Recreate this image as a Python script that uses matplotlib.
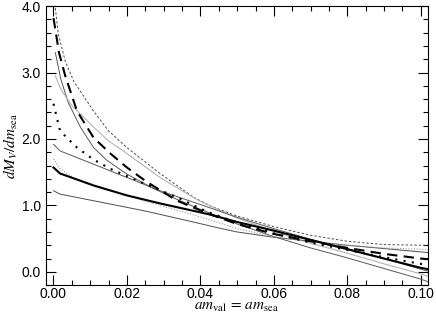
import numpy as np
import matplotlib
matplotlib.use("Agg")
import matplotlib.pyplot as plt
from matplotlib.ticker import MultipleLocator, FormatStrFormatter

plt.rcParams['font.family'] = ['Liberation Sans', 'DejaVu Sans']
plt.rcParams['mathtext.fontset'] = 'stix'

# curves: (x, y) pairs
top_dash_x = [0.0005, 0.0013, 0.0032, 0.0055, 0.0109, 0.015, 0.02, 0.029, 0.0382, 0.0428, 0.05, 0.06, 0.07, 0.08, 0.09, 0.10, 0.102]
top_dash_y = [3.97, 3.58, 3.17, 2.87, 2.42, 2.12, 1.87, 1.48, 1.12, 0.99, 0.84, 0.68, 0.55, 0.46, 0.41, 0.40, 0.40]

thick_dash_x = [0.0, 0.0015, 0.0032, 0.0064, 0.0109, 0.0155, 0.02, 0.0255, 0.0337, 0.0419, 0.05, 0.06, 0.07, 0.08, 0.09, 0.10, 0.102]
thick_dash_y = [3.82, 3.3, 2.95, 2.42, 2.02, 1.78, 1.57, 1.35, 1.07, 0.88, 0.72, 0.57, 0.46, 0.36, 0.27, 0.2, 0.19]

thin_solid1_x = [0.0005, 0.002, 0.004, 0.0073, 0.0109, 0.0145, 0.02, 0.027, 0.034, 0.04, 0.05, 0.06, 0.07, 0.08, 0.09, 0.10, 0.102]
thin_solid1_y = [3.3, 2.9, 2.55, 2.18, 1.87, 1.68, 1.47, 1.26, 1.08, 0.94, 0.72, 0.53, 0.36, 0.21, 0.05, -0.11, -0.15]

grey_solid_x = [0.0005, 0.002, 0.005, 0.0109, 0.015, 0.02, 0.029, 0.0365, 0.04, 0.05, 0.06, 0.07, 0.08, 0.09, 0.10, 0.102]
grey_solid_y = [2.95, 2.75, 2.5, 2.18, 1.97, 1.78, 1.42, 1.17, 1.06, 0.81, 0.61, 0.43, 0.28, 0.12, -0.03, -0.07]

dotted_x = [0.0, 0.0018, 0.0064, 0.0109, 0.0155, 0.0246, 0.0337, 0.042, 0.05, 0.06, 0.07, 0.08, 0.09, 0.10, 0.102]
dotted_y = [2.53, 2.12, 1.87, 1.69, 1.55, 1.33, 1.12, 0.9, 0.74, 0.58, 0.44, 0.33, 0.22, 0.12, 0.1]

thin_solid2_x = [0.0, 0.0018, 0.0109, 0.02, 0.029, 0.0428, 0.05, 0.06, 0.07, 0.08, 0.09, 0.10, 0.102]
thin_solid2_y = [1.92, 1.82, 1.62, 1.42, 1.22, 0.96, 0.82, 0.65, 0.49, 0.35, 0.2, 0.04, 0.01]

thick_solid_x = [0.0, 0.0018, 0.0109, 0.02, 0.029, 0.0428, 0.05, 0.06, 0.07, 0.08, 0.09, 0.10, 0.102]
thick_solid_y = [1.57, 1.48, 1.3, 1.15, 1.03, 0.86, 0.75, 0.62, 0.48, 0.34, 0.2, 0.06, 0.04]

grey_dot_x = [0.0, 0.0018, 0.005, 0.0109, 0.0246, 0.038, 0.045, 0.05, 0.06, 0.07, 0.08, 0.09, 0.10, 0.102]
grey_dot_y = [1.7, 1.55, 1.43, 1.31, 1.07, 0.86, 0.74, 0.65, 0.53, 0.45, 0.4, 0.36, 0.34, 0.33]

thin_solid3_x = [0.0, 0.0018, 0.0109, 0.0246, 0.0365, 0.045, 0.05, 0.06, 0.07, 0.08, 0.09, 0.10, 0.102]
thin_solid3_y = [1.22, 1.17, 1.07, 0.92, 0.77, 0.66, 0.6, 0.52, 0.46, 0.4, 0.35, 0.3, 0.29]

fig = plt.figure(figsize=(4.36, 3.2), dpi=100)
ax = fig.add_axes([0.105, 0.109, 0.877, 0.872])

ax.plot(top_dash_x, top_dash_y, color='0.3', lw=0.7, dashes=(2.5, 2))
ax.plot(thin_solid1_x, thin_solid1_y, color='0.35', lw=0.7)
ax.plot(grey_solid_x, grey_solid_y, color='0.7', lw=0.8)
ax.plot(thin_solid2_x, thin_solid2_y, color='0.35', lw=0.7)
ax.plot(thin_solid3_x, thin_solid3_y, color='0.3', lw=0.7)
ax.plot(grey_dot_x, grey_dot_y, color='0.6', lw=0.8, dashes=(1, 1.5))
ax.plot(thick_dash_x, thick_dash_y, color='black', lw=1.5, dashes=(5, 3))
ax.plot(dotted_x, dotted_y, color='black', lw=1.5, dashes=(1, 3))
ax.plot(thick_solid_x, thick_solid_y, color='black', lw=1.5)

ax.set_xlim(-0.0021, 0.102)
ax.set_ylim(-0.2, 4.0)
ax.xaxis.set_major_locator(MultipleLocator(0.02))
ax.xaxis.set_minor_locator(MultipleLocator(0.005))
ax.yaxis.set_major_locator(MultipleLocator(1.0))
ax.yaxis.set_minor_locator(MultipleLocator(0.2))
ax.xaxis.set_major_formatter(FormatStrFormatter('%.2f'))
ax.yaxis.set_major_formatter(FormatStrFormatter('%.1f'))
ax.tick_params(which='both', direction='in', top=True, right=True, labelsize=10, width=0.8)
ax.tick_params(which='major', length=7)
ax.tick_params(which='minor', length=3.5)
ax.tick_params(axis='x', pad=1.5)
for s in ax.spines.values():
    s.set_linewidth(0.8)

ax.set_xlabel(r'$am_{\rm val}\,=\,am_{\rm sea}$', fontsize=11, labelpad=-1)
ax.set_ylabel(r'$dM_V/dm_{\rm sea}$', fontsize=11, labelpad=1)

plt.savefig('out.png', dpi=100)
